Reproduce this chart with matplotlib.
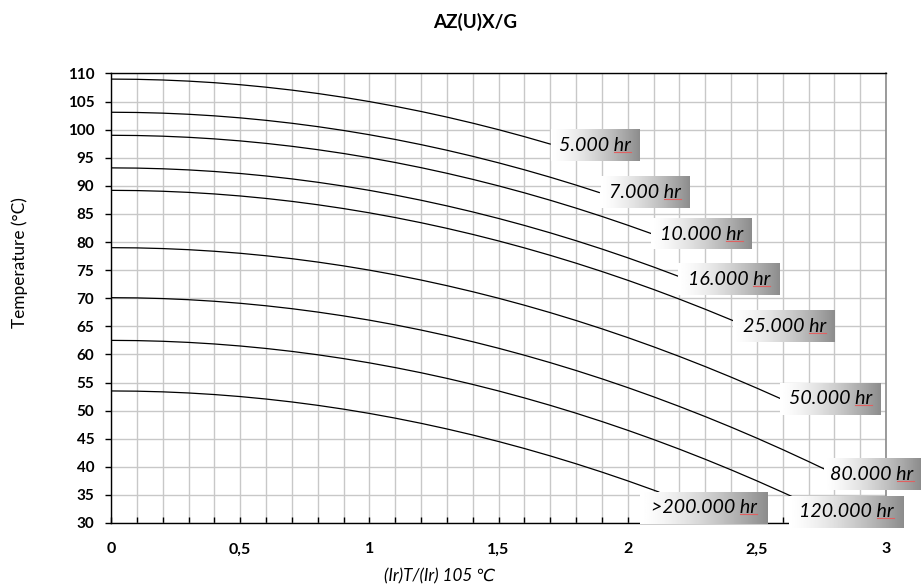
import numpy as np
import matplotlib
matplotlib.use("Agg")
import matplotlib.pyplot as plt

plt.rcParams['font.family'] = ['Lato', 'DejaVu Sans']

# Curves: x = (Ir)T/(Ir)105 every 0.1, last x = where the line meets its label
x_grid = [round(0.1 * i, 1) for i in range(31)]

t_5k = [109.00, 108.96, 108.84, 108.64, 108.36, 108.00, 107.56, 107.04, 106.44, 105.76,
        105.00, 104.16, 103.24, 102.24, 101.16, 100.00, 98.76, 97.44]
t_7k = [103.10, 103.06, 102.94, 102.74, 102.46, 102.10, 101.66, 101.14, 100.54, 99.86,
        99.10, 98.26, 97.34, 96.34, 95.26, 94.10, 92.86, 91.54, 90.14, 88.81]
t_10k = [99.00, 98.96, 98.84, 98.64, 98.36, 98.00, 97.56, 97.04, 96.44, 95.76,
         95.00, 94.16, 93.24, 92.24, 91.16, 90.00, 88.76, 87.44, 86.04, 84.56,
         83.00, 81.53]
t_16k = [93.20, 93.16, 93.04, 92.84, 92.56, 92.20, 91.76, 91.24, 90.64, 89.96,
         89.20, 88.36, 87.44, 86.44, 85.36, 84.20, 82.96, 81.64, 80.24, 78.76,
         77.20, 75.56, 73.84]
t_25k = [89.20, 89.16, 89.04, 88.84, 88.56, 88.20, 87.76, 87.24, 86.64, 85.96,
         85.20, 84.36, 83.44, 82.44, 81.36, 80.20, 78.96, 77.64, 76.24, 74.76,
         73.20, 71.56, 69.84, 68.04, 66.16, 65.97]
t_50k = [79.00, 78.96, 78.84, 78.64, 78.36, 78.00, 77.56, 77.04, 76.44, 75.76,
         75.00, 74.16, 73.24, 72.24, 71.16, 70.00, 68.76, 67.44, 66.04, 64.56,
         63.00, 61.36, 59.64, 57.84, 55.96, 54.00, 52.17]
t_80k = [70.10, 70.06, 69.94, 69.74, 69.46, 69.10, 68.66, 68.14, 67.54, 66.86,
         66.10, 65.26, 64.34, 63.34, 62.26, 61.10, 59.86, 58.54, 57.14, 55.66,
         54.10, 52.46, 50.74, 48.94, 47.06, 45.10, 43.06, 40.94, 39.63]
t_120k = [62.50, 62.46, 62.34, 62.14, 61.86, 61.50, 61.06, 60.54, 59.94, 59.26,
          58.50, 57.66, 56.74, 55.74, 54.66, 53.50, 52.26, 50.94, 49.54, 48.06,
          46.50, 44.86, 43.14, 41.34, 39.46, 37.50, 35.46, 34.62]
t_200k = [53.50, 53.46, 53.34, 53.14, 52.86, 52.50, 52.06, 51.54, 50.94, 50.26,
          49.50, 48.66, 47.74, 46.74, 45.66, 44.50, 43.26, 41.94, 40.54, 39.06,
          37.50, 35.86, 35.52]

x_end = [1.70, 1.89, 2.09, 2.20, 2.41, 2.59, 2.76, 2.64, 2.12]
series = [t_5k, t_7k, t_10k, t_16k, t_25k, t_50k, t_80k, t_120k, t_200k]
labels = ["5.000 hr", "7.000 hr", "10.000 hr", "16.000 hr", "25.000 hr",
          "50.000 hr", "80.000 hr", "120.000 hr", ">200.000 hr"]

# label boxes (x0, x1, y0, y1) in data units
boxes = [(1.703, 2.044, 94.46, 100.06),
         (1.897, 2.238, 86.09, 91.61),
         (2.090, 2.480, 78.68, 84.07),
         (2.196, 2.590, 70.66, 76.18),
         (2.409, 2.803, 62.21, 67.86),
         (2.590, 2.980, 49.28, 54.91),
         (2.760, 3.132, 35.79, 41.44),
         (2.625, 3.070, 29.14, 34.78),
         (2.048, 2.542, 29.86, 35.49)]

fig = plt.figure(figsize=(9.22, 5.85), dpi=100)
ax = fig.add_axes([0.1204, 0.106, 0.8406, 0.7684])

for ts, xe in zip(series, x_end):
    xs = x_grid[:len(ts) - 1] + [xe]
    ax.plot(xs, ts, color="black", lw=0.9, zorder=3)

# gradient label boxes
grad = 1 - 0.45 * np.linspace(0, 1, 200) ** 1.4
grad_img = np.tile(grad, (2, 1))
texts = []
for (x0, x1, y0, y1), lab in zip(boxes, labels):
    ax.imshow(grad_img, cmap="gray", vmin=0, vmax=1, extent=[x0, x1, y0, y1],
              aspect="auto", zorder=5, clip_on=False, interpolation="bilinear")
    t = ax.text((x0 + x1) / 2, (y0 + y1) / 2, lab, ha="center", va="center",
                fontsize=13, style="italic", color="black", zorder=6, clip_on=False)
    texts.append(t)

ax.set_xlim(0, 3)
ax.set_ylim(30, 110)
xt = np.arange(0, 3.01, 0.1)
ax.set_xticks(xt)
xtl = []
for v in xt:
    if abs(v * 2 - round(v * 2)) < 1e-6:
        xtl.append(("%g" % round(v, 1)).replace(".", ","))
    else:
        xtl.append("")
ax.set_xticklabels(xtl, fontweight="bold", fontsize=11.5)
ax.set_yticks(np.arange(30, 111, 5))
ax.set_yticklabels([str(v) for v in range(30, 111, 5)], fontweight="bold", fontsize=11)
ax.tick_params(axis="x", direction="in", length=4, width=1, pad=14, colors="black")
ax.tick_params(axis="y", direction="out", length=4, width=1, pad=8)

ax.grid(True, color="#c8c8c8", lw=1.0, zorder=0)
ax.set_axisbelow(True)
for s in ["left", "bottom", "top"]:
    ax.spines[s].set_color("black")
    ax.spines[s].set_linewidth(1.0)
ax.spines["right"].set_color("#8a8a8a")
ax.spines["right"].set_linewidth(1.2)

title = fig.text(475 / 922, 1 - 21.5 / 585, "AZ(U)X/G", ha="center", va="center",
                 fontsize=12, fontweight="bold")
ylab = fig.text(20 / 922, 1 - 263 / 585, "Temperature (°C)", ha="center", va="center",
                rotation=90, fontsize=12)
xlab = fig.text(495 / 922, 1 - 576 / 585, "(Ir)T/(Ir) 105 ℃", ha="right", va="center",
                fontsize=11, style="italic")

# match text sizes to the widths measured on the reference
fig.canvas.draw()
r = fig.canvas.get_renderer()


def fit(t, target, vertical=False):
    bb = t.get_window_extent(r)
    cur = bb.height if vertical else bb.width
    t.set_fontsize(t.get_fontsize() * target / cur)


fit(title, 84)
fit(ylab, 130, vertical=True)
fit(xlab, 112)
bb5 = texts[0].get_window_extent(r)
box_fs = texts[0].get_fontsize() * 72 / bb5.width
for t in texts:
    t.set_fontsize(box_fs)

# red spell-check underline beneath "hr"
fig.canvas.draw()
probe = fig.text(0, 0, "hr", fontsize=box_fs, style="italic")
w_hr = probe.get_window_extent(r).width
probe.remove()
inv = fig.transFigure.inverted()
for t in texts:
    bb = t.get_window_extent(r)
    p0 = inv.transform((bb.x1 - w_hr, bb.y0 + 2))
    p1 = inv.transform((bb.x1, bb.y0 + 2))
    fig.add_artist(plt.Line2D([p0[0], p1[0]], [p0[1], p1[1]], color="#e06060",
                              lw=0.8, transform=fig.transFigure, zorder=7))

fig.savefig("out.png", dpi=100)
